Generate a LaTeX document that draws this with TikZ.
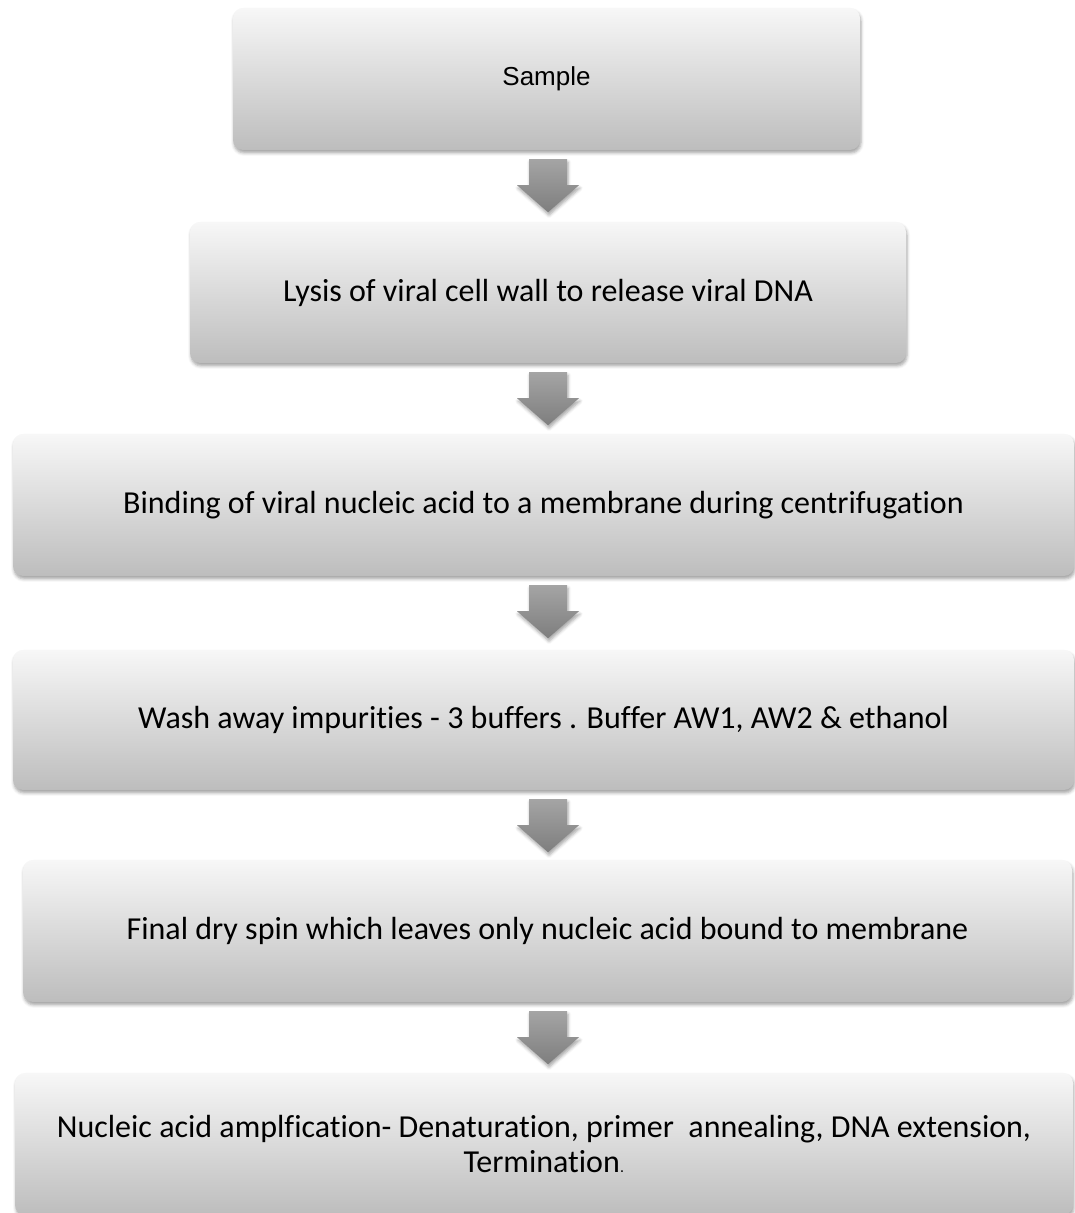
\documentclass[tikz,border=0pt]{standalone}
\usepackage{fontspec}
\setmainfont{Carlito}[Ligatures=CommonOff]
\newfontfamily\arialfont{Liberation Sans}
\usetikzlibrary{calc,shadows.blur}
\definecolor{boxtop}{HTML}{F7F7F7}
\definecolor{boxbottom}{HTML}{BDBDBD}
\definecolor{arrowtop}{HTML}{ABABAB}
\definecolor{arrowbottom}{HTML}{7E7E7E}
\tikzset{
	stepbox/.style={rectangle, rounded corners=10pt, inner sep=0pt, align=center,
		top color=boxtop, bottom color=boxbottom,
		blur shadow={shadow xshift=1pt, shadow yshift=-3pt, shadow blur radius=3pt, shadow opacity=35},
		font=\fontsize{32}{35}\selectfont},
	flowarrow/.style={top color=arrowtop, bottom color=arrowbottom,
		blur shadow={shadow xshift=1pt, shadow yshift=-3pt, shadow blur radius=3pt, shadow opacity=35}}
}
\begin{document}
\begin{tikzpicture}[x=1pt,y=1pt]
				\useasboundingbox (0,0) rectangle (1075,1213);
				\coordinate (axis) at (548,0);
				
				\node[stepbox, minimum width=627, minimum height=142, font=\arialfont\fontsize{26}{30}\selectfont] (sample) at (546.5,1134) {Sample};
				\node[stepbox, minimum width=716, minimum height=141] (lysis) at (548,920.5) {Lysis of viral cell wall to release viral DNA};
				\node[stepbox, minimum width=1061, minimum height=142] (binding) at (543.5,708) {Binding of viral nucleic acid to a membrane during centrifugation};
				\node[stepbox, minimum width=1061, minimum height=140] (wash) at (543.5,493) {Wash away impurities - 3 buffers . Buffer AW1, AW2 \& ethanol};
				\node[stepbox, minimum width=1049, minimum height=142] (dry) at (547.5,282) {Final dry spin which leaves only nucleic acid bound to membrane};
				\node[stepbox, minimum width=1058, minimum height=142] (amp) at (544,69) {Nucleic acid amplfication- Denaturation, primer\ \ annealing, DNA extension,\\Termination{\arialfont\fontsize{16}{18}\selectfont.}};
				
				% arrows between the steps
				\path[flowarrow] (axis |- sample.south) ++(-19,-9) -- ++(38,0) -- ++(0,-26) -- ++(12,0) -- ++(-31,-27) -- ++(-31,27) -- ++(12,0) -- cycle;
				\path[flowarrow] (axis |- lysis.south) ++(-19,-9) -- ++(38,0) -- ++(0,-26) -- ++(12,0) -- ++(-31,-27) -- ++(-31,27) -- ++(12,0) -- cycle;
				\path[flowarrow] (axis |- binding.south) ++(-19,-9) -- ++(38,0) -- ++(0,-26) -- ++(12,0) -- ++(-31,-27) -- ++(-31,27) -- ++(12,0) -- cycle;
				\path[flowarrow] (axis |- wash.south) ++(-19,-9) -- ++(38,0) -- ++(0,-26) -- ++(12,0) -- ++(-31,-27) -- ++(-31,27) -- ++(12,0) -- cycle;
				\path[flowarrow] (axis |- dry.south) ++(-19,-9) -- ++(38,0) -- ++(0,-26) -- ++(12,0) -- ++(-31,-27) -- ++(-31,27) -- ++(12,0) -- cycle;
			\end{tikzpicture}
\end{document}
